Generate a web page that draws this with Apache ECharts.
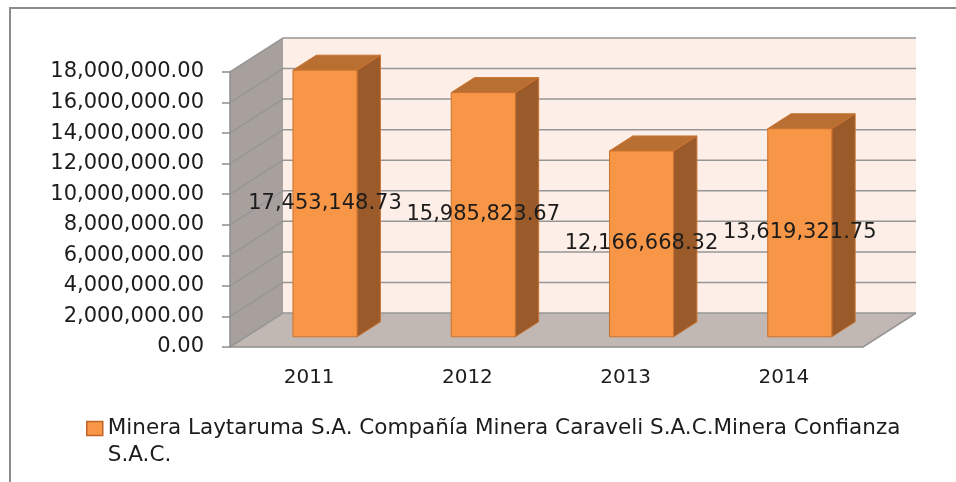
<!DOCTYPE html>
<html>
<head>
<meta charset="utf-8">
<script src="https://cdn.jsdelivr.net/npm/echarts@6/dist/echarts.min.js"></script>
<style>
  html, body { margin: 0; padding: 0; background: #fff; }
  #chart { width: 956px; height: 482px; }
</style>
</head>
<body>
<div id="chart"></div>
<script>
// data
var years = ['2011', '2012', '2013', '2014'];
var amounts = [17453148.73, 15985823.67, 12166668.32, 13619321.75];
var seriesName = 'Minera Laytaruma S.A. Compañía Minera Caraveli S.A.C.Minera Confianza S.A.C.';
var yTicks = [0, 2000000, 4000000, 6000000, 8000000, 10000000, 12000000, 14000000, 16000000, 18000000];

// fake 3d depth (pixels) of the chart box, and the slice of it the bars use
var DX = 53, DY = -34;
var FRONT = 0.3, BACK = 0.74;
var FONT = 'DejaVu Sans';

function money(v) {
  return Number(v).toLocaleString('en-US', { minimumFractionDigits: 2, maximumFractionDigits: 2 });
}

var chart = echarts.init(document.getElementById('chart'));

function renderWalls(params, api) {
  var cs = params.coordSys;
  var x0 = cs.x, x1 = cs.x + cs.width;
  var yb = api.coord([0, yTicks[0]])[1];
  var yt = api.coord([0, yTicks[yTicks.length - 1]])[1];
  var kids = [];
  // back wall
  kids.push({ type: 'polygon', shape: { points: [[x0 + DX, yt + DY], [x1 + DX, yt + DY], [x1 + DX, yb + DY], [x0 + DX, yb + DY]] },
    style: { fill: '#fdeee7' } });
  // side wall
  kids.push({ type: 'polygon', shape: { points: [[x0, yb], [x0, yt], [x0 + DX, yt + DY], [x0 + DX, yb + DY]] },
    style: { fill: '#a7a09d' } });
  // floor
  kids.push({ type: 'polygon', shape: { points: [[x0, yb], [x1, yb], [x1 + DX, yb + DY], [x0 + DX, yb + DY]] },
    style: { fill: '#c1b8b4' } });
  yTicks.forEach(function (t) {
    var y = api.coord([0, t])[1];
    kids.push({ type: 'polyline', shape: { points: [[x0, y], [x0 + DX, y + DY], [x1 + DX, y + DY]] },
      style: { fill: null, stroke: '#969696', lineWidth: 1.5 } });
  });
  kids.push({ type: 'line', shape: { x1: x1, y1: yb, x2: x1 + DX, y2: yb + DY },
    style: { stroke: '#969696', lineWidth: 1.5 } });
  return { type: 'group', children: kids };
}

function renderBar(params, api) {
  var i = api.value(0), v = api.value(1);
  var c = api.coord([i, v]);
  var b = api.coord([i, 0]);
  var bw = api.size([1, 0])[0] * 0.405;
  var fx = DX * FRONT, fy = DY * FRONT;
  var dx = DX * (BACK - FRONT), dy = DY * (BACK - FRONT);
  var l = c[0] - bw / 2 + fx, r = c[0] + bw / 2 + fx;
  var top = c[1] + fy, bot = b[1] + fy;
  var edge = { stroke: '#c9722f', lineWidth: 1 };
  return {
    type: 'group',
    children: [
      { type: 'polygon', shape: { points: [[r, top], [r + dx, top + dy], [r + dx, bot + dy], [r, bot]] },
        style: Object.assign({ fill: '#9a5a2a' }, edge) },
      { type: 'polygon', shape: { points: [[l, top], [r, top], [r + dx, top + dy], [l + dx, top + dy]] },
        style: Object.assign({ fill: '#b96f32' }, edge) },
      { type: 'rect', shape: { x: l, y: top, width: r - l, height: bot - top },
        style: Object.assign({ fill: '#f79646' }, edge) },
      { type: 'text', z2: 10, style: { x: (l + r) / 2, y: (top + bot) / 2, text: money(v),
        fill: '#1c1c1c', font: '21px "' + FONT + '"', align: 'center', verticalAlign: 'middle' } }
    ]
  };
}

chart.setOption({
  animation: false,
  textStyle: { fontFamily: FONT },
  graphic: [{
    type: 'rect', shape: { x: 10, y: 8, width: 1000, height: 600 },
    style: { fill: 'none', stroke: '#8c8c8c', lineWidth: 2 }, silent: true
  }],
  grid: { left: 230, right: 93, top: 72, bottom: 135 },
  legend: {
    left: 86, top: 388, padding: 0,
    data: [{ name: seriesName, icon: 'rect' }],
    itemWidth: 16, itemHeight: 14,
    itemStyle: { borderColor: '#c0652a', borderWidth: 1.5 },
    // empty first line keeps the marker level with the first text line
    formatter: function (n) { var k = n.lastIndexOf(' '); return '\n' + n.slice(0, k) + '\n' + n.slice(k + 1); },
    textStyle: { fontFamily: FONT, fontSize: 21.5, color: '#1c1c1c', lineHeight: 27 }
  },
  xAxis: {
    type: 'category', data: years, z: 3,
    axisLine: { lineStyle: { color: '#8e8e8e', width: 1.5 } },
    axisTick: { length: 8, lineStyle: { color: '#8e8e8e', width: 1.5 } },
    axisLabel: { fontSize: 20, color: '#1c1c1c', margin: 21 }
  },
  yAxis: {
    type: 'value', min: yTicks[0], max: yTicks[yTicks.length - 1], interval: yTicks[1] - yTicks[0], z: 3,
    axisLine: { show: true, lineStyle: { color: '#8e8e8e', width: 1.5 } },
    axisTick: { show: true, length: 8, lineStyle: { color: '#8e8e8e', width: 1.5 } },
    splitLine: { show: false },
    axisLabel: { fontSize: 21, color: '#1c1c1c', margin: 26, formatter: money }
  },
  series: [
    { type: 'custom', name: 'walls', silent: true, z: 1, renderItem: renderWalls,
      data: [[0, 0]], encode: { x: 0, y: 1 } },
    { type: 'custom', name: seriesName, z: 2, renderItem: renderBar,
      itemStyle: { color: '#f79646' },
      data: amounts.map(function (v, i) { return [i, v]; }), encode: { x: 0, y: 1 } }
  ]
});
</script>
</body>
</html>
